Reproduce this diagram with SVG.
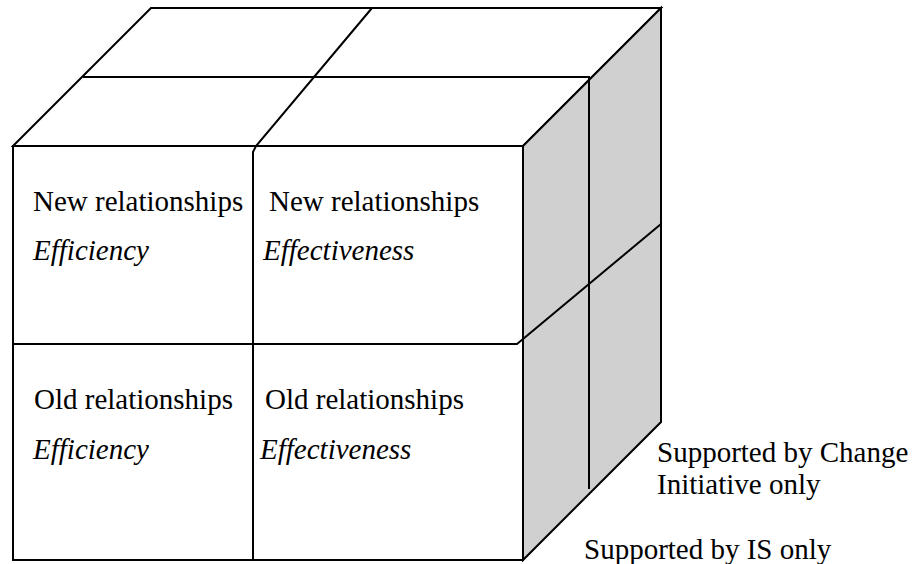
<svg xmlns="http://www.w3.org/2000/svg" width="914" height="564" viewBox="0 0 914 564">
<style>
.ln{fill:none;stroke:#000;stroke-width:2;stroke-linejoin:miter}
.t{font-family:"Liberation Serif","Times New Roman",serif;font-size:29px;fill:#000}
.i{font-style:italic}
</style>
<rect width="914" height="564" fill="#fff"/>
<g id="cube">
<polygon class="ln" points="13,146 151,8 661,8 523,146" fill="#fff"/>
<polygon class="ln" points="523,146 661,8 661,422 523,560" style="fill:#d0d0d0"/>
<rect class="ln" x="13" y="146" width="510" height="414" fill="#fff"/>
</g>
<g id="dividers">
<line class="ln" x1="83" y1="77" x2="590" y2="77"/>
<polyline class="ln" points="372,8 256,146 253,152 253,560"/>
<line class="ln" x1="589" y1="78" x2="589" y2="489"/>
<polyline class="ln" points="13,344 517,344 661,224"/>
</g>
<g id="cell-new-efficiency">
<text class="t" x="33" y="211">New relationships</text>
<text class="t i" x="33" y="260">Efficiency</text>
</g>
<g id="cell-new-effectiveness">
<text class="t" x="269" y="211">New relationships</text>
<text class="t i" x="263" y="260">Effectiveness</text>
</g>
<g id="cell-old-efficiency">
<text class="t" x="34" y="409">Old relationships</text>
<text class="t i" x="33" y="459">Efficiency</text>
</g>
<g id="cell-old-effectiveness">
<text class="t" x="265" y="409">Old relationships</text>
<text class="t i" x="260" y="459">Effectiveness</text>
</g>
<g id="label-change">
<text class="t" x="657" y="462">Supported by Change</text>
<text class="t" x="657" y="494">Initiative only</text>
</g>
<g id="label-is">
<text class="t" x="584" y="559">Supported by IS only</text>
</g>
</svg>
